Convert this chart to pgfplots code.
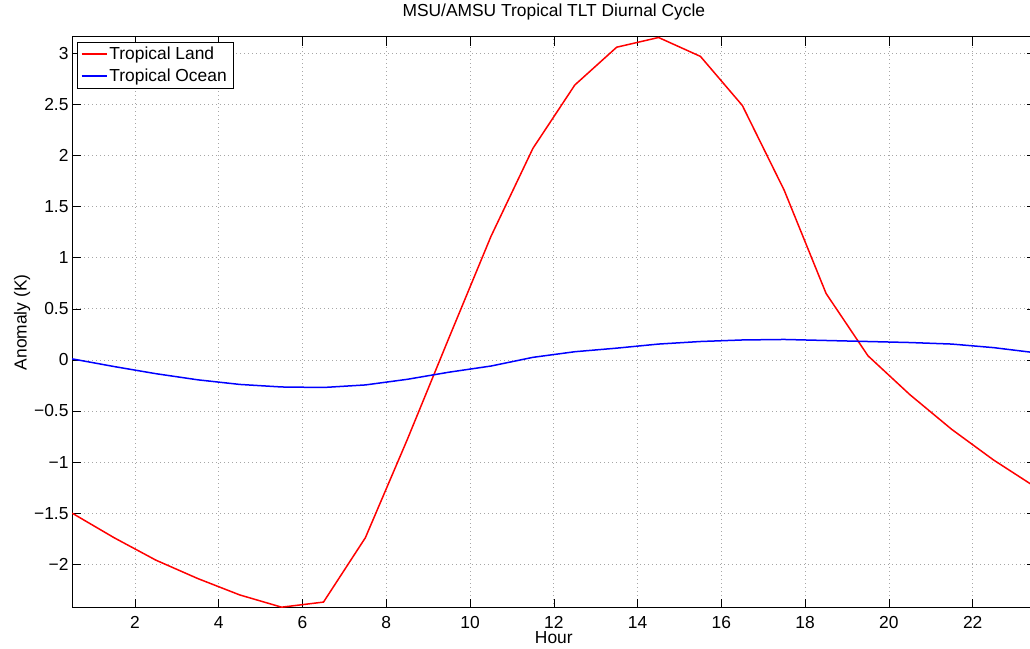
\documentclass[border=0pt]{standalone}
\usepackage{fontspec}
\setmainfont{Liberation Sans}
\usepackage{pgfplots}
\pgfplotsset{compat=1.18}
\newcommand{\f}{\fontsize{17.4}{20.9}\selectfont}
\begin{document}
\begin{tikzpicture}
\useasboundingbox (-72.2pt,-40.3pt) rectangle (957.8pt,607.7pt);
\begin{axis}[
  at={(0pt,0pt)}, anchor=south west,
  width=963.3pt, height=570.7pt, scale only axis,
  xmin=0.5, xmax=23.5, ymin=-2.425, ymax=3.16,
  xtick={2,4,...,22},
  ytick={-2,-1.5,-1,-0.5,0,0.5,1,1.5,2,2.5,3},
  yticklabels={−2,−1.5,−1,−0.5,0,0.5,1,1.5,2,2.5,3},
  /pgf/number format/assume math mode=true,
  tick align=inside, major tick length=9pt,
  tick style={black, line width=0.6pt},
  axis line style={black, line width=1pt},
  grid=major,
  major grid style={gray!70, dash pattern=on 1pt off 3pt, line width=0.8pt},
  tick label style={font=\f},
  xticklabel style={anchor=base, inner sep=0pt, yshift=-20.6pt},
  yticklabel style={anchor=east, inner sep=0pt, xshift=-3.5pt},
  title={MSU/AMSU Tropical TLT Diurnal Cycle},
  title style={at={(axis description cs:0.5,1)}, anchor=base, yshift=14.4pt, font=\f},
  xlabel={Hour},
  every axis x label/.style={at={(axis description cs:0.5,0)}, anchor=base, yshift=-35.3pt, font=\f},
  ylabel={Anomaly (K)},
  every axis y label/.style={at={(axis description cs:0,0.5)}, rotate=90, anchor=base, yshift=45.5pt, font=\f},
  legend cell align=left,
  legend image code/.code={\draw[#1] plot coordinates {(0pt,0pt) (12.5pt,0pt) (25pt,0pt)};},
  legend style={at={(axis description cs:0,1)}, anchor=north west, xshift=4.5pt, yshift=-4.7pt,
    font=\f, inner xsep=4pt, inner ysep=3pt, row sep=4pt, draw=black},
]
\addplot[red, line width=1.5pt] coordinates {
(0.5,-1.50) (1.5,-1.74) (2.5,-1.96) (3.5,-2.14) (4.5,-2.30) (5.5,-2.42)
(6.5,-2.37) (7.5,-1.74) (8.5,-0.78) (9.5,0.22) (10.5,1.21) (11.5,2.07)
(12.5,2.69) (13.5,3.06) (14.5,3.155) (15.5,2.97) (16.5,2.49) (17.5,1.66)
(18.5,0.65) (19.5,0.04) (20.5,-0.34) (21.5,-0.68) (22.5,-0.98) (23.5,-1.245)
};
\addlegendentry{Tropical Land}
\addplot[blue, line width=1.5pt] coordinates {
(0.5,0.01) (1.5,-0.065) (2.5,-0.135) (3.5,-0.195) (4.5,-0.24) (5.5,-0.265)
(6.5,-0.27) (7.5,-0.245) (8.5,-0.19) (9.5,-0.12) (10.5,-0.06) (11.5,0.025)
(12.5,0.08) (13.5,0.115) (14.5,0.155) (15.5,0.18) (16.5,0.195) (17.5,0.20)
(18.5,0.19) (19.5,0.18) (20.5,0.17) (21.5,0.155) (22.5,0.12) (23.5,0.07)
};
\addlegendentry{Tropical Ocean}
\end{axis}
\end{tikzpicture}
\end{document}
